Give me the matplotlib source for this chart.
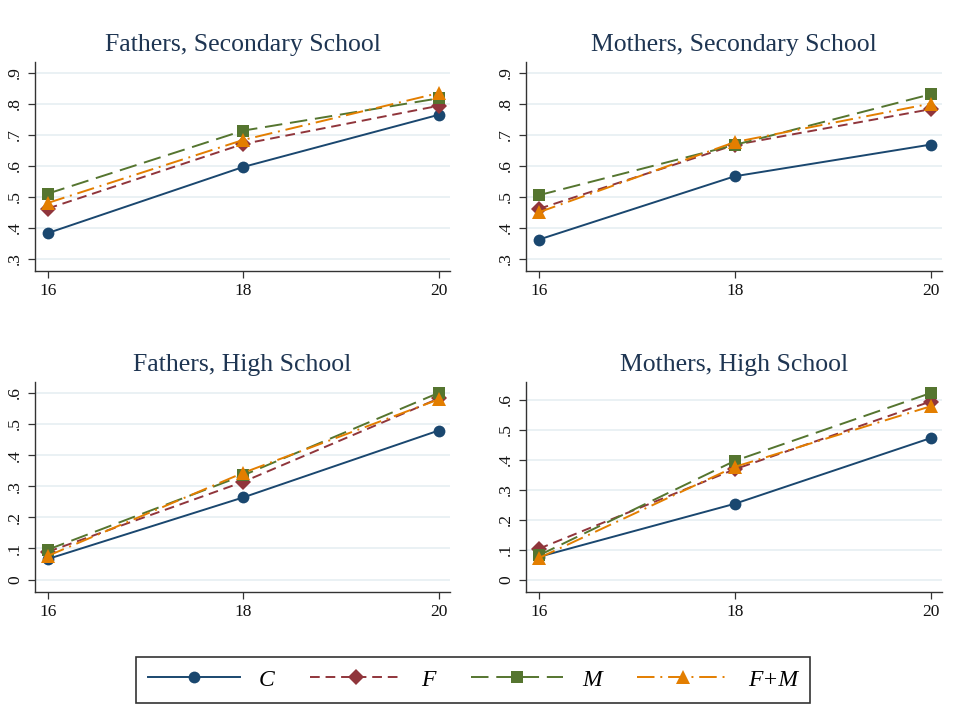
import matplotlib
matplotlib.use("Agg")
import matplotlib.pyplot as plt
from matplotlib.lines import Line2D

ages = [16, 18, 20]
series_names = ["C", "F", "M", "F+M"]

fs_C = [0.383, 0.596, 0.764]
fs_F = [0.462, 0.670, 0.793]
fs_M = [0.510, 0.713, 0.817]
fs_FM = [0.480, 0.683, 0.834]

ms_C = [0.362, 0.566, 0.668]
ms_F = [0.461, 0.667, 0.782]
ms_M = [0.505, 0.667, 0.830]
ms_FM = [0.450, 0.676, 0.800]

fh_C = [0.066, 0.264, 0.479]
fh_F = [0.089, 0.314, 0.582]
fh_M = [0.096, 0.335, 0.600]
fh_FM = [0.076, 0.343, 0.579]

mh_C = [0.076, 0.253, 0.472]
mh_F = [0.103, 0.368, 0.594]
mh_M = [0.081, 0.396, 0.622]
mh_FM = [0.072, 0.376, 0.578]

titles = ["Fathers, Secondary School", "Mothers, Secondary School",
          "Fathers, High School", "Mothers, High School"]
sec_yticks = [0.3, 0.4, 0.5, 0.6, 0.7, 0.8, 0.9]
sec_ylabels = [".3", ".4", ".5", ".6", ".7", ".8", ".9"]
hs_yticks = [0.0, 0.1, 0.2, 0.3, 0.4, 0.5, 0.6]
hs_ylabels = ["0", ".1", ".2", ".3", ".4", ".5", ".6"]

colors = ["#1a476f", "#90353b", "#55752f", "#e37e00"]
markers = ["o", "D", "s", "^"]
msizes = [8.5, 8.0, 8.5, 9.5]
styles = ["-", (0, (5, 3)), (0, (9, 4)), (0, (9, 3, 1, 3))]

plt.rcParams['font.family'] = ['Liberation Serif', 'DejaVu Serif']

fig = plt.figure(figsize=(9.75, 7.05), dpi=100)
W, H = 975.0, 705.0

def ax_at(x0, x1, y0, y1):
    return fig.add_axes([x0 / W, 1 - y1 / H, (x1 - x0) / W, (y1 - y0) / H])

panels = [
    (ax_at(35, 450, 62, 271), [fs_C, fs_F, fs_M, fs_FM], (0.261, 0.934), sec_yticks, sec_ylabels),
    (ax_at(526, 942, 62, 271), [ms_C, ms_F, ms_M, ms_FM], (0.261, 0.934), sec_yticks, sec_ylabels),
    (ax_at(35, 450, 382, 592), [fh_C, fh_F, fh_M, fh_FM], (-0.040, 0.635), hs_yticks, hs_ylabels),
    (ax_at(526, 942, 382, 592), [mh_C, mh_F, mh_M, mh_FM], (-0.041, 0.659), hs_yticks, hs_ylabels),
]

text_col = "#1e3552"
for (ax, data, ylim, yt, yl), title in zip(panels, titles):
    for vals, c, m, ms, ls in zip(data, colors, markers, msizes, styles):
        ax.plot(ages, vals, color=c, marker=m, markersize=ms, linestyle=ls,
                linewidth=1.4, markeredgewidth=0, zorder=3)
    ax.set_xlim(15.87, 20.116)
    ax.set_ylim(*ylim)
    ax.set_xticks(ages)
    ax.set_xticklabels([str(a) for a in ages])
    ax.set_yticks(yt)
    ax.set_yticklabels(yl, rotation=90, va="center")
    ax.grid(axis="y", color="#e6eff2", linewidth=1.2, zorder=0)
    for s in ["top", "right"]:
        ax.spines[s].set_visible(False)
    for s in ["left", "bottom"]:
        ax.spines[s].set_color("#333333")
        ax.spines[s].set_linewidth(1.0)
    ax.tick_params(axis="both", colors="#333333", labelcolor="#111111",
                   labelsize=12.5, length=5, width=0.9)
    ax.set_title(title, fontsize=18.5, color=text_col, pad=8)

handles = [Line2D([0], [0], color=c, marker=m, markersize=ms, linestyle=ls,
                  linewidth=1.4, markeredgewidth=0)
           for c, m, ms, ls in zip(colors, markers, msizes, styles)]
leg = fig.legend(handles, series_names, loc="center", bbox_to_anchor=(473 / W, 1 - 680 / H),
                 ncol=4, frameon=True, fancybox=False, edgecolor="black",
                 handlelength=3.9, columnspacing=1.5, handletextpad=0.8,
                 prop={"style": "italic", "size": 17, "family": "Liberation Serif"},
                 borderpad=0.5, borderaxespad=0)
leg.get_frame().set_linewidth(1.2)

fig.savefig("out.png", dpi=100, facecolor="white")
